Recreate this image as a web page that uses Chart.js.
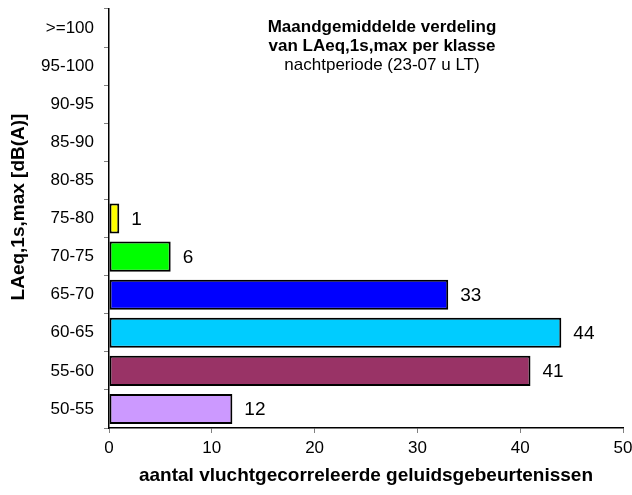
<!DOCTYPE html>
<html>
<head>
<meta charset="utf-8">
<script src="https://cdn.jsdelivr.net/npm/chart.js@4/dist/chart.umd.min.js"></script>
<style>
  html, body { margin: 0; padding: 0; background: #fff; }
  #wrap { width: 632px; height: 495px; }
</style>
</head>
<body>
<div id="wrap"><canvas id="chart" width="632" height="495"></canvas></div>
<script>
// klassen van onder naar boven
const klassen = ["50-55", "55-60", "60-65", "65-70", "70-75", "75-80", "80-85", "85-90", "90-95", "95-100", ">=100"];
const aantallen = [12, 41, 44, 33, 6, 1, null, null, null, null, null];
const kleuren = ["#CC99FF", "#993366", "#00CCFF", "#0000FF", "#00FF00", "#FFFF00", "#fff", "#fff", "#fff", "#fff", "#fff"];
const xTicks = [0, 10, 20, 30, 40, 50];
const titelRegels = ["Maandgemiddelde verdeling", "van LAeq,1s,max per klasse", "nachtperiode (23-07 u LT)"];
const yTitel = "LAeq,1s,max [dB(A)]";
const xTitel = "aantal vluchtgecorreleerde geluidsgebeurtenissen";

const FONT = "'Liberation Sans', Arial, sans-serif";

// waarden rechts naast de balken
const valueLabels = {
  id: "valueLabels",
  afterDatasetsDraw(chart) {
    const ctx = chart.ctx;
    const meta = chart.getDatasetMeta(0);
    ctx.save();
    ctx.font = "19px " + FONT;
    ctx.fillStyle = "#000";
    ctx.textAlign = "left";
    ctx.textBaseline = "middle";
    meta.data.forEach((bar, i) => {
      if (aantallen[i] == null) return;
      ctx.fillText(String(aantallen[i]), bar.x + 12, bar.y + 1);
    });
    ctx.restore();
  }
};

// titel binnen het plotvlak + y-as titel
const titelPlugin = {
  id: "titelPlugin",
  afterDraw(chart) {
    const ctx = chart.ctx;
    ctx.save();
    ctx.fillStyle = "#000";
    ctx.textAlign = "center";
    ctx.textBaseline = "middle";
    const cx = 382;
    ctx.font = "bold 17px " + FONT;
    ctx.fillText(titelRegels[0], cx, 27);
    ctx.fillText(titelRegels[1], cx, 46);
    ctx.font = "17px " + FONT;
    ctx.fillText(titelRegels[2], cx, 65);

    ctx.translate(19, 207);
    ctx.rotate(-Math.PI / 2);
    ctx.font = "bold 19px " + FONT;
    ctx.fillText(yTitel, 0, 0);
    ctx.restore();
  }
};

new Chart(document.getElementById("chart"), {
  type: "bar",
  data: {
    labels: klassen,
    datasets: [{
      data: aantallen,
      backgroundColor: kleuren,
      borderColor: "#000",
      borderWidth: 2,
      borderSkipped: false,
      barPercentage: 0.79,
      categoryPercentage: 1
    }]
  },
  options: {
    indexAxis: "y",
    responsive: false,
    animation: false,
    layout: { padding: { top: 9, right: 9, bottom: 0, left: 0 } },
    plugins: {
      legend: { display: false },
      tooltip: { enabled: false }
    },
    scales: {
      x: {
        min: 0,
        max: 50,
        afterBuildTicks: s => { s.ticks = xTicks.map(v => ({ value: v })); },
        afterFit: s => { s.height = 67; s.paddingRight = 0; s.paddingLeft = 0; },
        border: { color: "#000", width: 1.5 },
        grid: { drawOnChartArea: false, drawTicks: true, tickLength: 5, color: "#808080" },
        ticks: { color: "#000", font: { family: FONT, size: 17 }, padding: 5 },
        title: {
          display: true,
          text: xTitel,
          color: "#000",
          font: { family: FONT, size: 19, weight: "bold" },
          padding: { top: 0, bottom: 8 }
        }
      },
      y: {
        reverse: true,
        afterFit: s => { s.width = 109; s.paddingTop = 0; s.paddingBottom = 0; },
        border: { color: "#000", width: 1.5 },
        grid: { drawOnChartArea: false, drawTicks: true, tickLength: 5, color: "#808080" },
        ticks: { color: "#000", font: { family: FONT, size: 17 }, padding: 10 }
      }
    }
  },
  plugins: [valueLabels, titelPlugin]
});
</script>
</body>
</html>
